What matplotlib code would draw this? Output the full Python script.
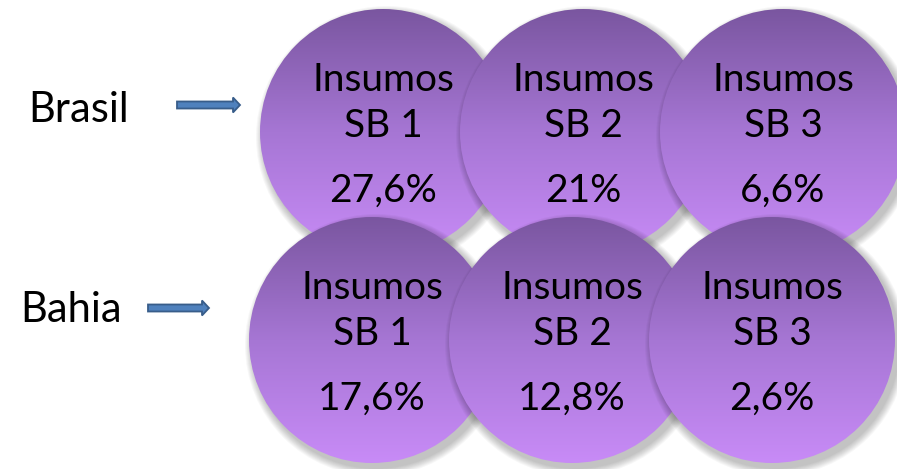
import numpy as np
import matplotlib
matplotlib.use("Agg")
import matplotlib.pyplot as plt
from matplotlib.patches import Circle, FancyArrow
from matplotlib.colors import LinearSegmentedColormap

plt.rcParams['font.family'] = ['Lato', 'DejaVu Sans']

# data
regions = ["Brasil", "Bahia"]
categories = ["Insumos\nSB 1", "Insumos\nSB 2", "Insumos\nSB 3"]
brasil_values = ["27,6%", "21%", "6,6%"]
bahia_values = ["17,6%", "12,8%", "2,6%"]
row_values = [brasil_values, bahia_values]

W, H = 897, 469
fig = plt.figure(figsize=(W / 100, H / 100), dpi=100)
ax = fig.add_axes([0, 0, 1, 1])
ax.set_xlim(0, W)
ax.set_ylim(H, 0)
ax.axis('off')

# gradient purple, dark at top to light at bottom
cmap = LinearSegmentedColormap.from_list("purp", ["#7a56a0", "#a676d4", "#c88bf7"])
grad = np.linspace(0, 1, 256).reshape(-1, 1)

r = 123
row_y = [132, 340]
row_x0 = [383, 372]
step = 200
fs = 28


def draw_bubble(cx, cy, label, value, z):
    # soft shadow
    for k in range(8):
        sh = Circle((cx + 4, cy + 5), r + 8 - k, color='#000000', alpha=0.03,
                    lw=0, zorder=z)
        ax.add_patch(sh)
    circ = Circle((cx, cy), r, facecolor='none', edgecolor='none', zorder=z + 0.1)
    ax.add_patch(circ)
    im = ax.imshow(grad, cmap=cmap, aspect='auto',
                   extent=[cx - r, cx + r, cy + r, cy - r], zorder=z + 0.2)
    im.set_clip_path(circ)
    lines = label.split("\n")
    ax.text(cx, cy - 41, lines[0], ha='center', va='baseline', fontsize=fs,
            color='black', zorder=z + 0.3)
    ax.text(cx, cy + 5, lines[1], ha='center', va='baseline', fontsize=fs,
            color='black', zorder=z + 0.3)
    ax.text(cx, cy + 70, value, ha='center', va='baseline', fontsize=fs,
            color='black', zorder=z + 0.3)


z = 1
for i, region in enumerate(regions):
    for j, cat in enumerate(categories):
        draw_bubble(row_x0[i] + j * step, row_y[i], cat, row_values[i][j], z)
        z += 1

# row labels and arrows
ax.text(79, 122, "Brasil", ha='center', va='baseline', fontsize=30, color='black')
ax.text(71, 322, "Bahia", ha='center', va='baseline', fontsize=30, color='black')

for (x0, x1, y) in [(177, 240, 105), (148, 209, 308)]:
    ax.add_patch(FancyArrow(x0, y, x1 - x0, 0, width=7, head_width=15,
                            head_length=7, length_includes_head=True,
                            facecolor='#4f81bd', edgecolor='#385d8a', lw=1.3,
                            zorder=50))

fig.savefig("out.png", dpi=100)
